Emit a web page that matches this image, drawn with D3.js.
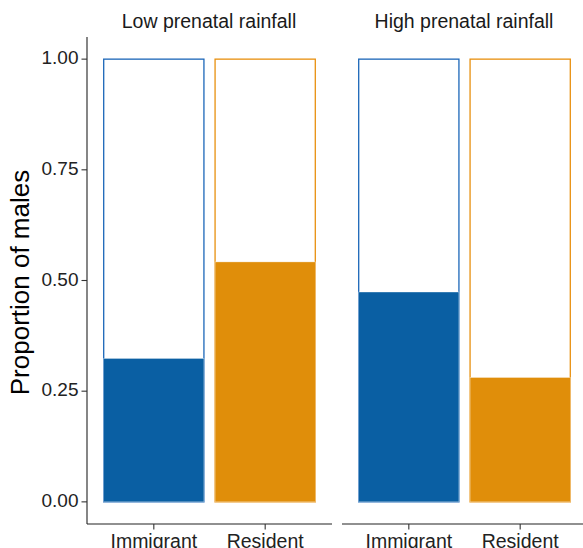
<!DOCTYPE html>
<html><head><meta charset="utf-8">
<script src="https://cdn.jsdelivr.net/npm/d3@7"></script>
<style>body{margin:0;background:#fff}svg{display:block}text{font-family:"Liberation Sans",Arial,sans-serif}</style>
</head><body><svg id="c" width="583" height="548"></svg>
<script>
const panels = ["Low prenatal rainfall", "High prenatal rainfall"];
const groups = ["Immigrant", "Resident"];
const lowValues = [0.324, 0.542];
const highValues = [0.474, 0.281];
const yTicks = [0, 0.25, 0.5, 0.75, 1];
const colors = ["#0a5fa3", "#e08e0a"];
const outlineColors = ["#1b66b8", "#e8900f"];

const svg = d3.select("#c");
const plotTop = 37, plotBottom = 524;
const y = d3.scaleLinear().domain([-0.05, 1.05]).range([plotBottom, plotTop]);
const panelX = [[87, 332], [342, 587]];
const values = [lowValues, highValues];

panels.forEach((p, pi) => {
  const [x0, x1] = panelX[pi];
  const x = d3.scaleBand().domain(groups).range([x0, x1]).paddingInner(0.1).paddingOuter(0.15);
  const bw = x.bandwidth();
  const g = svg.append("g");
  groups.forEach((grp, gi) => {
    g.append("rect").attr("x", x(grp)).attr("width", bw)
      .attr("y", y(1)).attr("height", y(0) - y(1))
      .attr("fill", "#fff").attr("stroke", outlineColors[gi]).attr("stroke-width", 1.3);
    const v = values[pi][gi];
    g.append("rect").attr("x", x(grp)).attr("width", bw)
      .attr("y", y(v)).attr("height", y(0) - y(v))
      .attr("fill", colors[gi]).attr("stroke", "#fff").attr("stroke-opacity", 0.6).attr("stroke-width", 0.6);
  });
  g.append("line").attr("x1", x0).attr("x2", x1).attr("y1", plotBottom).attr("y2", plotBottom)
    .attr("stroke", "#222").attr("stroke-width", 1.1);
  groups.forEach(grp => {
    const cx = x(grp) + bw / 2;
    g.append("line").attr("x1", cx).attr("x2", cx).attr("y1", plotBottom).attr("y2", plotBottom + 5.5)
      .attr("stroke", "#333").attr("stroke-width", 1.1);
    g.append("text").attr("x", cx).attr("y", plotBottom + 19).attr("text-anchor", "middle")
      .attr("dominant-baseline", "middle").attr("font-size", 19.5).attr("fill", "#222").text(grp);
  });
  g.append("text").attr("x", (x0 + x1) / 2 - 0.5).attr("y", 22.5).attr("text-anchor", "middle")
    .attr("dominant-baseline", "middle").attr("font-size", 19.5).attr("fill", "#1a1a1a").text(p);
});

const ya = svg.append("g");
ya.append("line").attr("x1", 87).attr("x2", 87).attr("y1", plotTop).attr("y2", plotBottom)
  .attr("stroke", "#222").attr("stroke-width", 1.1);
yTicks.forEach(t => {
  ya.append("line").attr("x1", 81.5).attr("x2", 87).attr("y1", y(t)).attr("y2", y(t))
    .attr("stroke", "#333").attr("stroke-width", 1.1);
  ya.append("text").attr("x", 78.5).attr("y", y(t)).attr("text-anchor", "end")
    .attr("dominant-baseline", "middle").attr("font-size", 19).attr("fill", "#222")
    .text(d3.format(".2f")(t));
});
svg.append("text").attr("transform", `translate(22,${(plotTop + plotBottom) / 2 + 2}) rotate(-90)`)
  .attr("text-anchor", "middle").attr("dominant-baseline", "middle")
  .attr("font-size", 26).attr("fill", "#000").text("Proportion of males");
</script></body></html>
